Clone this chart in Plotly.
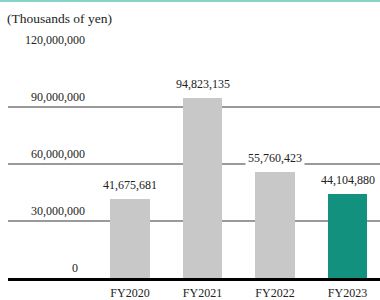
import plotly.graph_objects as go

categories = ["FY2020", "FY2021", "FY2022", "FY2023"]
values = [41675681, 94823135, 55760423, 44104880]
value_labels = ["41,675,681", "94,823,135", "55,760,423", "44,104,880"]
bar_colors = ["#c8c8c8", "#c8c8c8", "#c8c8c8", "#11917e"]
y_ticks = [0, 30000000, 60000000, 90000000, 120000000]
y_tick_labels = ["0", "30,000,000", "60,000,000", "90,000,000", "120,000,000"]
unit_label = "(Thousands of yen)"

FONT = "Liberation Serif"

fig = go.Figure()
fig.add_trace(go.Bar(
    x=list(range(len(categories))), y=values,
    marker=dict(color=bar_colors, line=dict(width=0)),
    width=0.55, hoverinfo="skip",
))

# value labels above bars
for i, (v, lab) in enumerate(zip(values, value_labels)):
    fig.add_annotation(x=i, y=v, xref="x", yref="y", text=lab, showarrow=False,
                       yshift=14, font=dict(family=FONT, size=12, color="#222222"),
                       bgcolor="white", borderpad=2)

# y tick labels above gridlines
for v, lab in zip(y_ticks, y_tick_labels):
    fig.add_annotation(x=(87 - 8) / 372 if v else (80 - 8) / 372, y=v, xref="paper", yref="y",
                       text=lab, showarrow=False, xanchor="right", yshift=10,
                       font=dict(family=FONT, size=12, color="#222222"))

# unit label
fig.add_annotation(x=(5 - 8) / 372, y=(278 - 18) / 228, xref="paper", yref="paper",
                   text=unit_label, showarrow=False, xanchor="left", yanchor="middle",
                   font=dict(family=FONT, size=13.5, color="#222222"))

# top teal rule
fig.add_shape(type="line", xref="paper", yref="paper",
              x0=-8 / 372, x1=1, y0=(278 - 1) / 228, y1=(278 - 1) / 228,
              line=dict(color="#86d3c9", width=2))

fig.update_layout(
    width=380, height=300,
    font=dict(family=FONT, size=12, color="#222222"),
    margin=dict(l=8, r=0, t=50, b=22, autoexpand=False),
    paper_bgcolor="white", plot_bgcolor="white",
    showlegend=False,
    bargap=0,
    xaxis=dict(
        range=[-122 / 72.5, 250 / 72.5],
        tickmode="array", tickvals=list(range(len(categories))), ticktext=categories,
        tickfont=dict(family=FONT, size=12, color="#222222"),
        ticklabelstandoff=2,
        showgrid=False, zeroline=False,
        showline=True, linecolor="black", linewidth=3,
        ticks="", fixedrange=True, automargin=False,
    ),
    yaxis=dict(
        range=[0, 120000000],
        tickmode="array", tickvals=y_ticks,
        showticklabels=False,
        showgrid=True, gridcolor="#9a9a9a", gridwidth=2,
        zeroline=False, showline=False, fixedrange=True, automargin=False,
    ),
)

fig.write_html("out.html", config={"displayModeBar": False},
               post_script="document.body.style.margin='0';document.body.style.overflow='hidden';")
